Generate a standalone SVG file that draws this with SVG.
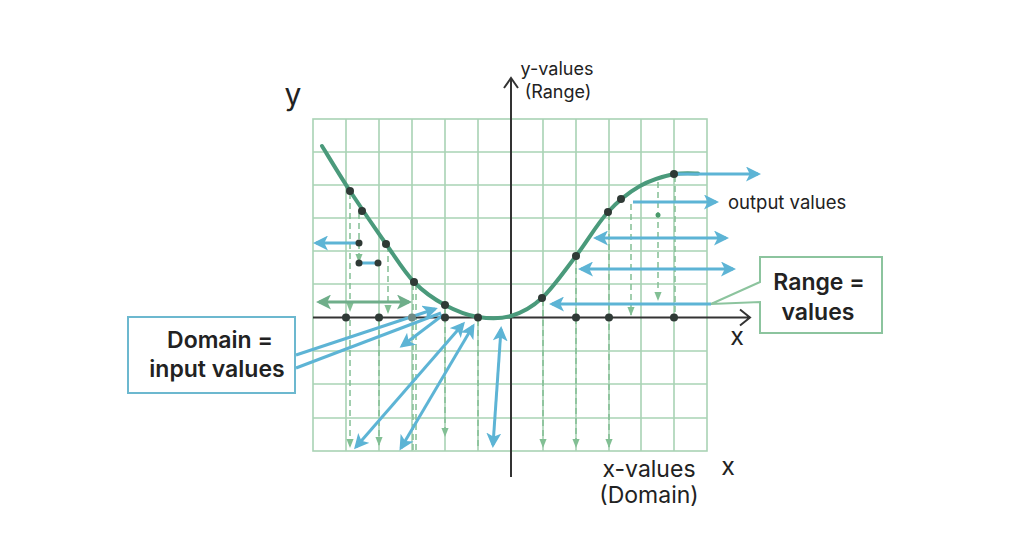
<svg xmlns="http://www.w3.org/2000/svg" width="1024" height="559" viewBox="0 0 1024 559">
<defs>
<style>
.grid{stroke:#a9d3b5;stroke-width:1.6;fill:none}
.axis{stroke:#333;stroke-width:2;fill:none}
.dash{stroke:#82bf94;stroke-width:1.5;stroke-dasharray:6 4;fill:none}
.blue{stroke:#5db4d5;stroke-width:3;fill:none}
.green{stroke:#6fae8a;stroke-width:3;fill:none}
.dot{fill:#2f3a36}
.t{font-family:Inter,"Liberation Sans",sans-serif;fill:#222}
.b{font-weight:600;font-size:23px}
</style>
<marker id="ab" viewBox="0 0 10 10" refX="8" refY="5" markerWidth="5" markerHeight="5" orient="auto-start-reverse" markerUnits="strokeWidth">
<path d="M0,0 L10,5 L0,10 L2.5,5 Z" fill="#5db4d5"/>
</marker>
<marker id="ag" viewBox="0 0 10 10" refX="8" refY="5" markerWidth="5" markerHeight="5" orient="auto-start-reverse" markerUnits="strokeWidth">
<path d="M0,0 L10,5 L0,10 L2.5,5 Z" fill="#6fae8a"/>
</marker>
<marker id="ad" viewBox="0 0 10 10" refX="9" refY="5" markerWidth="6" markerHeight="6" orient="auto" markerUnits="strokeWidth">
<path d="M0,1 L10,5 L0,9 Z" fill="#82bf94"/>
</marker>
</defs>
<rect width="1024" height="559" fill="#fff"/>

<g id="grid">
<rect class="grid" x="313" y="119" width="394" height="332"/>
<path class="grid" d="M346,119V451M379,119V451M412,119V451M445,119V451M478,119V451M543,119V451M576,119V451M609,119V451M641,119V451M674,119V451M313,152H707M313,185H707M313,218H707M313,251H707M313,284H707M313,351H707M313,384H707M313,418H707"/>
</g>

<g id="dashed">
<path class="dash" d="M350,193V311" marker-end="url(#ad)"/>
<path class="dash" d="M350,320V447" marker-end="url(#ad)"/>
<path class="dash" d="M359,213V262" marker-end="url(#ad)"/>
<path class="dash" d="M388,246V313" marker-end="url(#ad)"/>
<path class="dash" d="M379,320V445" marker-end="url(#ad)"/>
<path class="dash" d="M413,284V450"/>
<path class="dash" d="M416,284V450"/>
<path class="dash" d="M445,307V436" marker-end="url(#ad)"/>
<path class="dash" d="M478,320V450"/>
<path class="dash" d="M543,300V447" marker-end="url(#ad)"/>
<path class="dash" d="M576,258V447" marker-end="url(#ad)"/>
<path class="dash" d="M609,214V447" marker-end="url(#ad)"/>
<path class="dash" d="M631,204V315" marker-end="url(#ad)"/>
<path class="dash" d="M658,182V300" marker-end="url(#ad)"/>
<path class="dash" d="M675,176V317"/>
</g>

<g id="axes">
<path class="axis" d="M313,317.5H750M740,309.5L750,317.5L740,325.5"/>
<path class="axis" d="M511,477V78M504,88L511,78L518,88"/>
</g>

<g id="curve">
<path d="M322,146 C326.7,153.5 339.3,174.7 350,191 C360.7,207.3 375.3,228.8 386,244 C396.7,259.2 404.2,271.8 414,282 C423.8,292.2 434.3,299.2 445,305 C455.7,310.8 467,315.2 478,317 C489,318.8 500.3,319.2 511,316 C521.7,312.8 531.2,308 542,298 C552.8,288 565,270.3 576,256 C587,241.7 597.3,223.7 608,212 C618.7,200.3 629,192.3 640,186 C651,179.7 664,176.2 674,174 C684,172.7 690,173.2 698,173.5" fill="none" stroke="#4a9a7b" stroke-width="4" stroke-linecap="round"/>
</g>

<g id="connectors">
<path class="blue" d="M359,243H316" marker-end="url(#ab)"/>
<path class="blue" d="M359,263H378"/>
<path class="green" d="M319,302H409" marker-start="url(#ag)" marker-end="url(#ag)"/>
<path class="blue" d="M675,174H758" marker-end="url(#ab)"/>
<path class="blue" d="M633,202H716" marker-end="url(#ab)"/>
<path class="blue" d="M596,238H726" marker-start="url(#ab)" marker-end="url(#ab)"/>
<path class="blue" d="M581,269H733" marker-start="url(#ab)" marker-end="url(#ab)"/>
<path class="blue" d="M711,304H552" marker-end="url(#ab)"/>
<path class="blue" d="M296,355L435,309" marker-end="url(#ab)"/>
<path class="blue" d="M296,368L441,313"/>
<path class="blue" d="M443,315L402,346" marker-end="url(#ab)"/>
<path class="blue" d="M356,447L463,324" marker-start="url(#ab)" marker-end="url(#ab)"/>
<path class="blue" d="M401,448L473,326" marker-start="url(#ab)" marker-end="url(#ab)"/>
<path class="blue" d="M493,445L501,329" marker-start="url(#ab)" marker-end="url(#ab)"/>
</g>

<g id="dots">
<circle class="dot" cx="350" cy="191" r="4"/>
<circle class="dot" cx="362" cy="211" r="4"/>
<circle class="dot" cx="386" cy="244" r="4"/>
<circle class="dot" cx="414" cy="282" r="4"/>
<circle class="dot" cx="445" cy="305" r="4"/>
<circle class="dot" cx="542" cy="298" r="4"/>
<circle class="dot" cx="576" cy="256" r="4"/>
<circle class="dot" cx="608" cy="212" r="4"/>
<circle class="dot" cx="621" cy="199" r="4"/>
<circle class="dot" cx="674" cy="174" r="4"/>
<circle class="dot" cx="346" cy="317.5" r="4"/>
<circle class="dot" cx="379" cy="317.5" r="4"/>
<circle cx="412" cy="317.5" r="4" fill="#6f8a84"/>
<circle class="dot" cx="445" cy="317.5" r="4"/>
<circle class="dot" cx="478" cy="317.5" r="4"/>
<circle class="dot" cx="576" cy="317.5" r="4"/>
<circle class="dot" cx="609" cy="317.5" r="4"/>
<circle class="dot" cx="674" cy="317.5" r="4"/>
<circle class="dot" cx="359" cy="243" r="3.5"/>
<circle class="dot" cx="359" cy="263" r="3.5"/>
<circle class="dot" cx="378" cy="263" r="3.5"/>
<circle cx="658" cy="215" r="2.5" fill="#4a9a6b"/>
</g>

<g id="domain-box">
<rect x="128" y="317" width="167" height="76" fill="#fff" stroke="#6cb8cf" stroke-width="2"/>
<text class="t b" x="220" y="348" text-anchor="middle">Domain =</text>
<text class="t b" x="217" y="377" text-anchor="middle">input values</text>
</g>

<g id="range-box">
<path d="M760,257H882V333H760V302L711,304L760,282Z" fill="#fff" stroke="#8cc49e" stroke-width="2"/>
<text class="t b" x="819" y="290" text-anchor="middle">Range =</text>
<text class="t b" x="818" y="320" text-anchor="middle">values</text>
</g>

<g id="labels">
<text class="t" x="293" y="105" font-size="30" text-anchor="middle">y</text>
<text class="t" x="557" y="75" font-size="18" text-anchor="middle">y-values</text>
<text class="t" x="558" y="98" font-size="18" text-anchor="middle">(Range)</text>
<text class="t" x="728" y="209" font-size="18.5">output values</text>
<text class="t" x="737" y="345" font-size="25" text-anchor="middle">x</text>
<text class="t" x="649" y="477" font-size="23" text-anchor="middle">x-values</text>
<text class="t" x="649" y="503" font-size="23" text-anchor="middle">(Domain)</text>
<text class="t" x="728" y="475" font-size="25" text-anchor="middle">x</text>
</g>
</svg>
